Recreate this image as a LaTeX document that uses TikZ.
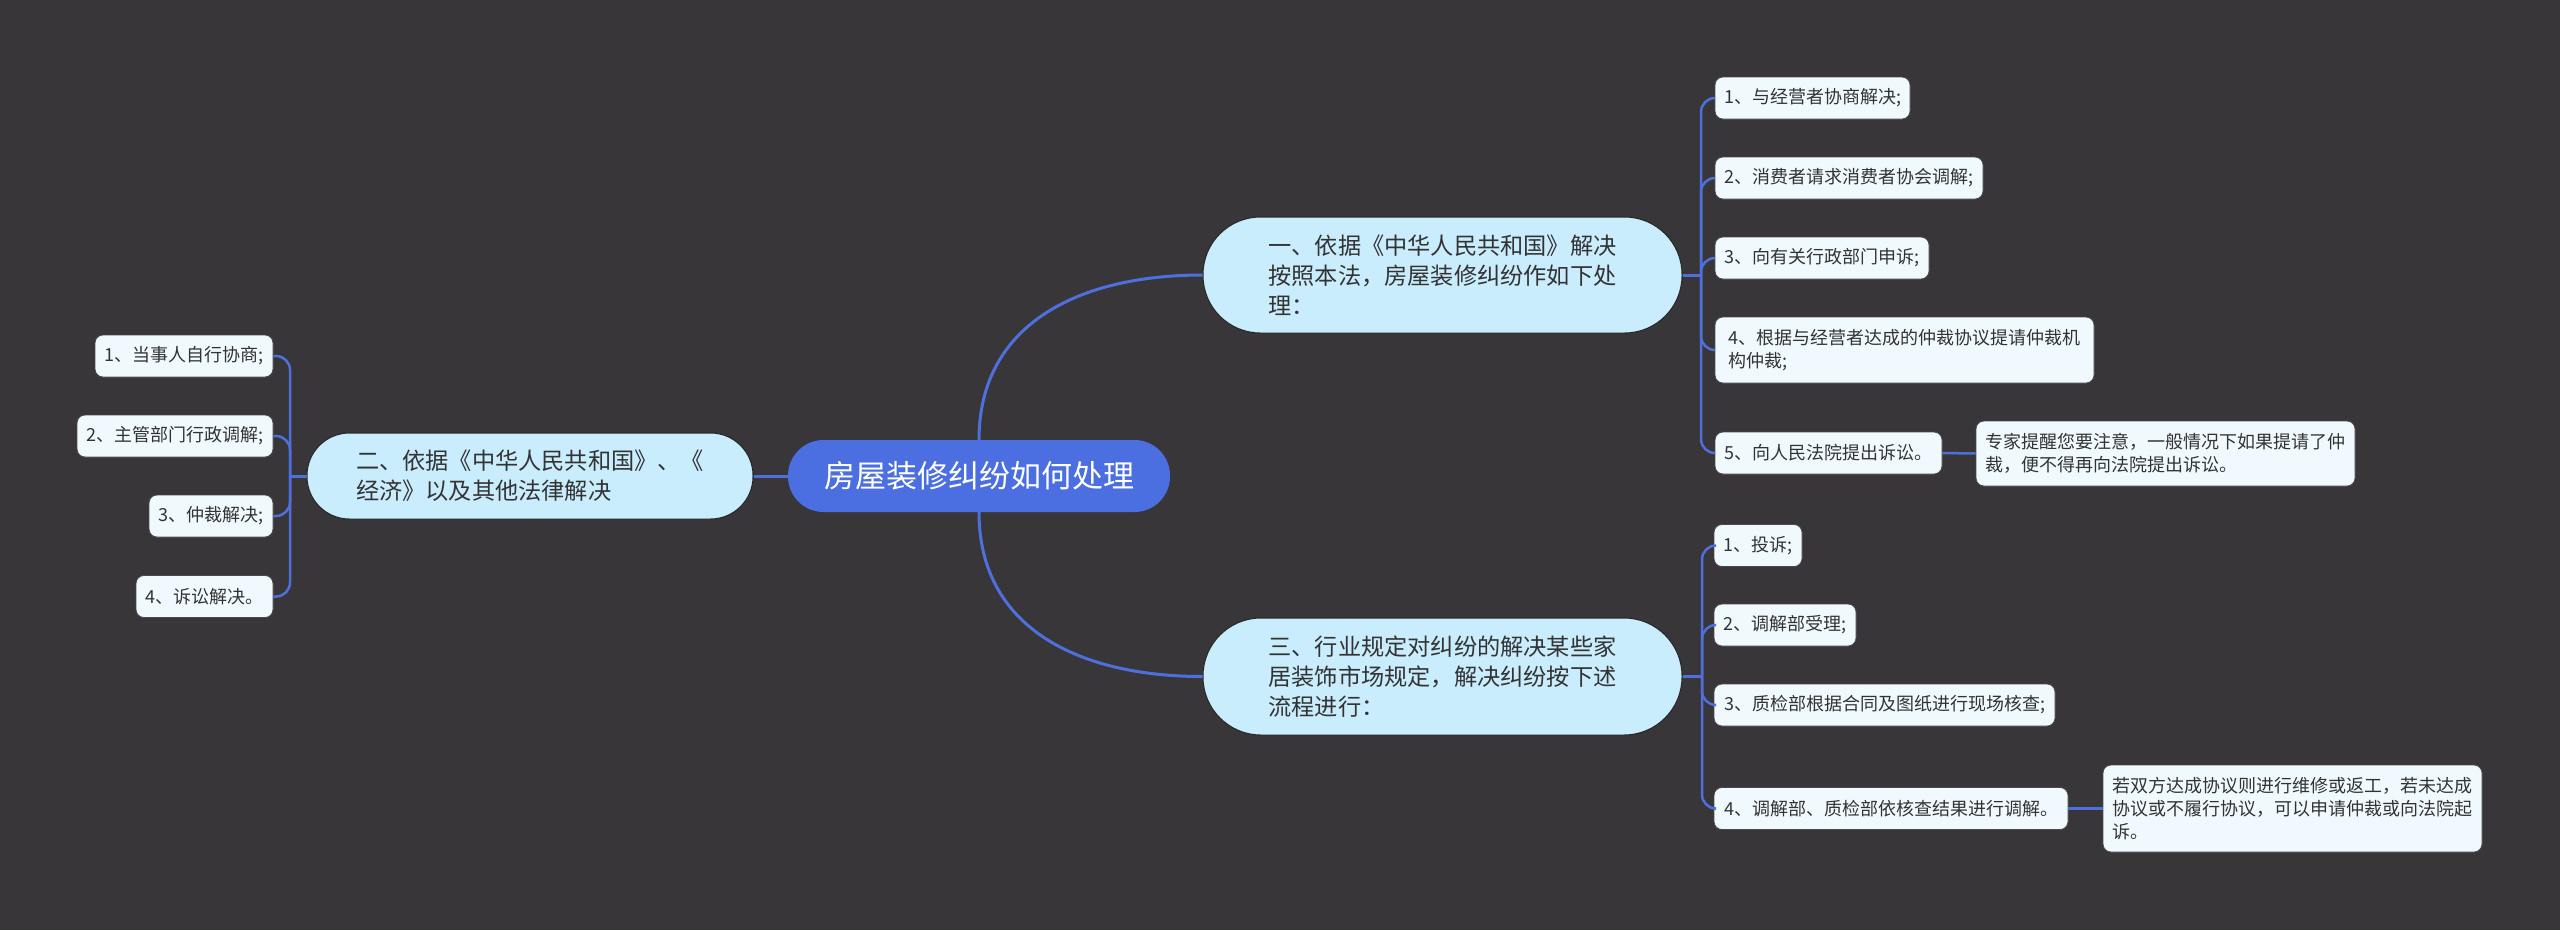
\documentclass[tikz,border=0pt]{standalone}
\usepackage{fontspec}
\newfontfamily\cjk{Noto Sans CJK SC}
\definecolor{bg}{HTML}{383638}
\definecolor{rootc}{HTML}{4B6EE0}
\definecolor{linec}{HTML}{4F6FDD}
\definecolor{brc}{HTML}{C9EDFD}
\definecolor{brd}{HTML}{262626}
\definecolor{leafc}{HTML}{F0FAFE}
\definecolor{leafd}{HTML}{4A4A4A}
\definecolor{txt}{HTML}{333333}
\begin{document}
\begin{tikzpicture}[x=1pt,y=-1pt,
  rootnode/.style={fill=rootc, text=white, rounded corners=35.5pt, minimum width=382pt, minimum height=72pt, inner sep=0pt, font=\cjk\fontsize{31}{36}\selectfont},
  branchnode/.style={fill=brc, draw=brd, line width=1pt, text=txt, align=left, inner sep=0pt, font=\cjk\fontsize{23.2}{30}\selectfont},
  leafnode/.style={fill=leafc, draw=leafd, line width=0.8pt, rounded corners=8pt, text=txt, align=left, inner xsep=9pt, inner ysep=0pt, minimum height=42pt, font=\cjk\fontsize{18}{23}\selectfont},
  link/.style={draw=linec, line width=3pt},
  sublink/.style={draw=linec, line width=2.5pt, rounded corners=14pt}]
\fill[bg] (0,0) rectangle (2560,930);
\useasboundingbox (0,0) rectangle (2560,930);

% root
\node[rootnode] (root) at (979,476) {房屋装修纠纷如何处理};

% branches
\node[branchnode, rounded corners=57.5pt, minimum width=479pt, minimum height=116pt] (b1) at (1442.5,275)
  {一、依据《中华人民共和国》解决\\按照本法，房屋装修纠纷作如下处\\理：};
\node[branchnode, rounded corners=42.5pt, minimum width=446pt, minimum height=86pt] (b2) at (530,476)
  {二、依据《中华人民共和国》、《\\经济》以及其他法律解决};
\node[branchnode, rounded corners=58pt, minimum width=479pt, minimum height=117pt] (b3) at (1442.5,676.5)
  {三、行业规定对纠纷的解决某些家\\居装饰市场规定，解决纠纷按下述\\流程进行：};

% left leaves
\node[leafnode, minimum width=178pt] (l1) at (184,356) {1、当事人自行协商;};
\node[leafnode, minimum width=196pt] (l2) at (175,436) {2、主管部门行政调解;};
\node[leafnode, minimum width=124pt] (l3) at (211,516) {3、仲裁解决;};
\node[leafnode, minimum width=137pt] (l4) at (204.5,596.5) {4、诉讼解决。};

% right leaves, branch 1
\node[leafnode, minimum width=195pt] (r1) at (1812.5,98) {1、与经营者协商解决;};
\node[leafnode, minimum width=268pt] (r2) at (1849,178) {2、消费者请求消费者协会调解;};
\node[leafnode, minimum width=214pt] (r3) at (1822,258) {3、向有关行政部门申诉;};
\node[leafnode, minimum width=379pt, minimum height=66pt] (r4) at (1904.5,350) {4、根据与经营者达成的仲裁协议提请仲裁机\\构仲裁;};
\node[leafnode, minimum width=227pt] (r5) at (1828.5,453) {5、向人民法院提出诉讼。};
\node[leafnode, minimum width=379pt, minimum height=65pt] (n1) at (2165.5,453.5) {专家提醒您要注意，一般情况下如果提请了仲\\裁，便不得再向法院提出诉讼。};

% right leaves, branch 3
\node[leafnode, minimum width=88pt] (s1) at (1758,545.5) {1、投诉;};
\node[leafnode, minimum width=142pt] (s2) at (1785,625) {2、调解部受理;};
\node[leafnode, minimum width=341pt] (s3) at (1884.5,705) {3、质检部根据合同及图纸进行现场核查;};
\node[leafnode, minimum width=354pt] (s4) at (1891,808.5) {4、调解部、质检部依核查结果进行调解。};
\node[leafnode, minimum width=379pt, minimum height=87pt] (n2) at (2292.5,808.5) {若双方达成协议则进行维修或返工，若未达成\\协议或不履行协议，可以申请仲裁或向法院起\\诉。};

% junctions
\coordinate (jl) at (290,476);
\coordinate (j1) at (1701,275);
\coordinate (j3) at (1702,676.5);

% main links
\draw[link] (root.north) .. controls +(0,-115) and +(-125,0) .. (b1.west);
\draw[link] (root.south) .. controls +(0,115) and +(-125,0) .. (b3.west);
\draw[link] (root.west) -- (b2.east);
\draw[link] (b2.west) -- (jl);
\draw[link] (b1.east) -- (j1);
\draw[link] (b3.east) -- (j3);

% sub links
\foreach \n in {l1,l2,l3,l4} \draw[sublink] (jl) |- (\n.east);
\foreach \n in {r1,r2,r3,r4,r5} \draw[sublink] (j1) |- (\n.west);
\foreach \n in {s1,s2,s3,s4} \draw[sublink] (j3) |- (\n.west);
\draw[sublink] (r5.east) -- (n1.west);
\draw[sublink] (s4.east) -- (n2.west);
\end{tikzpicture}
\end{document}
